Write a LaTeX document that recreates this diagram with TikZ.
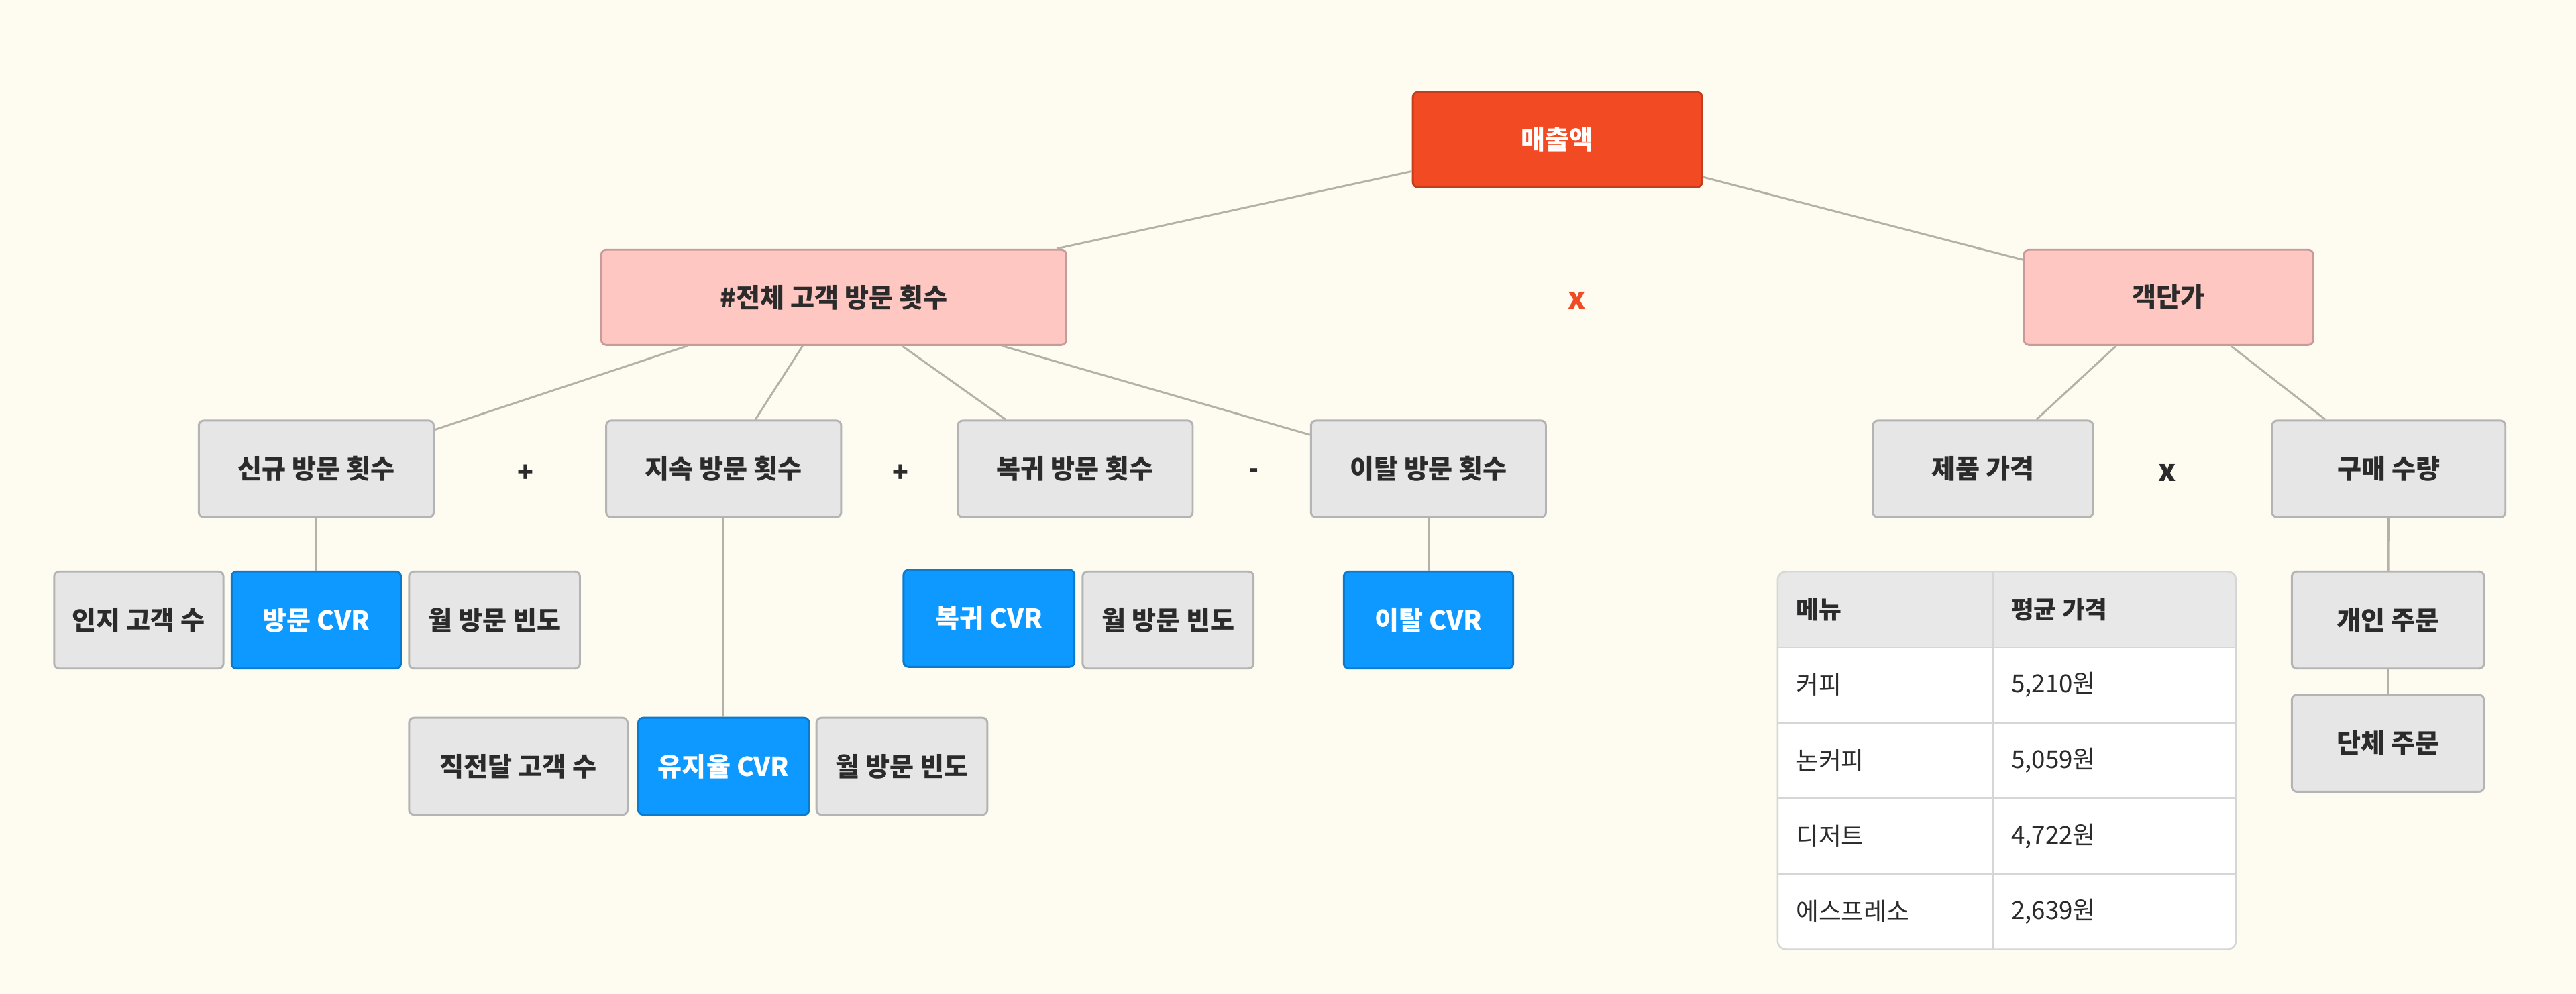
\documentclass[tikz,border=0pt]{standalone}
\usepackage{fontspec}
\setmainfont{Noto Sans CJK KR}
\usepackage{xcolor}
\usetikzlibrary{positioning}

\definecolor{bgcream}{HTML}{FEFCF1}
\definecolor{txtdark}{HTML}{2B2B2B}
\definecolor{rootred}{HTML}{F24A22}
\definecolor{rootline}{HTML}{C43E1E}
\definecolor{pinkfill}{HTML}{FFC7C2}
\definecolor{pinkline}{HTML}{C99B98}
\definecolor{grayfill}{HTML}{E6E6E6}
\definecolor{grayline}{HTML}{B4B4B4}
\definecolor{cvrblue}{HTML}{0D99FF}
\definecolor{cvrline}{HTML}{0B7BD0}
\definecolor{edgegray}{HTML}{B5B1A9}
\definecolor{tblhead}{HTML}{E8E8E8}
\definecolor{tblline}{HTML}{D6D6D6}

\begin{document}
\begin{tikzpicture}[x=1pt, y=-1pt,
    every node/.style={font=\fontsize{16}{19}\selectfont\bfseries, text=txtdark},
    box/.style={draw, rounded corners=3pt, line width=1.2pt, minimum height=59pt, inner sep=0pt},
    rootbox/.style={box, fill=rootred, draw=rootline, text=white, minimum width=176pt, minimum height=58pt},
    midbox/.style={box, fill=pinkfill, draw=pinkline, minimum height=58pt},
    leafbox/.style={box, fill=grayfill, draw=grayline},
    cvrbox/.style={box, fill=cvrblue, draw=cvrline, text=white},
    link/.style={draw=edgegray, line width=1.2pt},
    cell/.style={font=\fontsize{15}{18}\selectfont, anchor=west, inner sep=0pt}]

% Background
\path[use as bounding box, fill=bgcream] (0,0) rectangle (1568,605);

% Top level
\node[rootbox] (sales) at (948,85) {매출액};
\node[midbox, minimum width=283pt] (visits) at (507.5,181) {\#전체 고객 방문 횟수};
\node[midbox, minimum width=176pt] (unitprice) at (1320,181) {객단가};
\node[text=rootred, font=\fontsize{18}{20}\selectfont\bfseries] (timesA) at (960,183) {x};

% Visit counts
\node[leafbox, minimum width=143pt] (newv) at (192.5,285.5) {신규 방문 횟수};
\node (plusA) at (320,288) {+};
\node[leafbox, minimum width=143pt] (keepv) at (440.5,285.5) {지속 방문 횟수};
\node (plusB) at (548,288) {+};
\node[leafbox, minimum width=143pt] (backv) at (654.5,285.5) {복귀 방문 횟수};
\node (minusA) at (763,288) {-};
\node[leafbox, minimum width=143pt] (churnv) at (869.5,285.5) {이탈 방문 횟수};

% Unit price parts
\node[leafbox, minimum width=134pt] (price) at (1207,285.5) {제품 가격};
\node[font=\fontsize{18}{20}\selectfont\bfseries] (timesB) at (1319,288) {x};
\node[leafbox, minimum width=142pt] (qty) at (1454,285.5) {구매 수량};

% New visit factors
\node[leafbox, minimum width=103pt] (aware) at (84.5,377.5) {인지 고객 수};
\node[cvrbox, minimum width=103pt] (newcvr) at (192.5,377.5) {방문 CVR};
\node[leafbox, minimum width=104pt] (freqA) at (301,377.5) {월 방문 빈도};

% Return visit factors
\node[cvrbox, minimum width=104pt] (backcvr) at (602,376.5) {복귀 CVR};
\node[leafbox, minimum width=104pt] (freqB) at (711,377.5) {월 방문 빈도};

% Churn factor
\node[cvrbox, minimum width=103pt] (churncvr) at (869.5,377.5) {이탈 CVR};

% Retention factors
\node[leafbox, minimum width=133pt] (lastmon) at (315.5,466.5) {직전달 고객 수};
\node[cvrbox, minimum width=104pt] (keepcvr) at (440.5,466.5) {유지율 CVR};
\node[leafbox, minimum width=104pt] (freqC) at (549,466.5) {월 방문 빈도};

% Order types
\node[leafbox, minimum width=117pt] (single) at (1453.5,377.5) {개인 주문};
\node[leafbox, minimum width=117pt] (group) at (1453.5,452.5) {단체 주문};

% Links
\draw[link] (sales) -- (visits);
\draw[link] (sales) -- (unitprice);
\foreach \kid in {newv,keepv,backv,churnv}
    \draw[link] (visits) -- (\kid);
\draw[link] (unitprice) -- (price);
\draw[link] (unitprice) -- (qty);
\draw[link] (newv) -- (newcvr);
\draw[link] (keepv) -- (keepcvr);
\draw[link] (churnv) -- (churncvr);
\draw[link] (qty) -- (single);
\draw[link] (single) -- (group);

% Price table
\begin{scope}
\clip[rounded corners=5pt] (1082,348) rectangle (1361,578);
\fill[white] (1082,348) rectangle (1361,578);
\fill[tblhead] (1082,348) rectangle (1361,394);
\foreach \y in {394,440,486,532}
    \draw[tblline, line width=1pt] (1082,\y) -- (1361,\y);
\draw[tblline, line width=1pt] (1213,348) -- (1213,578);
\end{scope}
\draw[tblline, line width=1pt, rounded corners=5pt] (1082,348) rectangle (1361,578);

\node[cell, font=\fontsize{15}{18}\selectfont\bfseries] (hmenu) at (1093,371) {메뉴};
\node[cell, font=\fontsize{15}{18}\selectfont\bfseries] (hprice) at (1224,371) {평균 가격};
\foreach \menu/\won [count=\i] in {커피/5{,}210원, 논커피/5{,}059원, 디저트/4{,}722원, 에스프레소/2{,}639원} {
    \node[cell] (menu\i) at (1093,371+46*\i) {\menu};
    \node[cell] (won\i) at (1224,371+46*\i) {\won};
}

\end{tikzpicture}
\end{document}
